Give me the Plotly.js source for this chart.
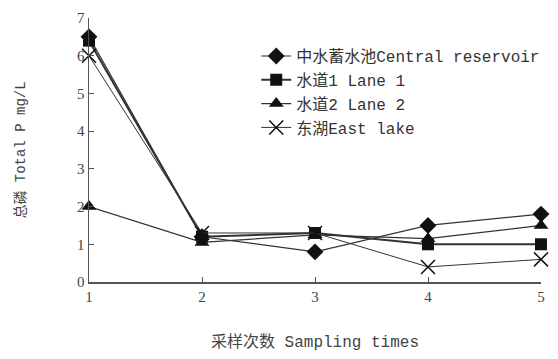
<!DOCTYPE html>
<html><head><meta charset="utf-8">
<script src="https://cdn.plot.ly/plotly-3.0.1.min.js"></script>
<style>body{margin:0;background:#fff}#c{width:558px;height:359px}</style>
</head><body><div id="c"></div>
<script>
var samplingTimes = [1, 2, 3, 4, 5];
var centralReservoir = [6.5, 1.2, 0.8, 1.5, 1.8];
var lane1 = [6.4, 1.2, 1.3, 1.0, 1.0];
var lane2 = [2.0, 1.05, 1.25, 1.15, 1.5];
var eastLake = [6.0, 1.3, 1.3, 0.4, 0.6];
var names = ['中水蓄水池Central reservoir', '水道1 Lane 1', '水道2 Lane 2', '东湖East lake'];

var F = 'Liberation Serif, Noto Sans CJK SC, serif';
var M = 'Liberation Mono, Noto Sans CJK SC, monospace';
var col = '#333';
function tr(y, name, sym, size, w){
  return {x: samplingTimes, y: y, name: name, mode: 'lines+markers', type: 'scatter',
    line: {color: col, width: w}, marker: {symbol: sym, size: size, color: '#111', line:{color:'#111', width: sym==='x-thin'?1.5:0}},
    cliponaxis: false};
}
var data = [
  tr(centralReservoir, names[0], 'diamond', 13, 1.2),
  tr(lane1, names[1], 'square', 12, 2),
  tr(lane2, names[2], 'triangle-up', 13, 1.2),
  tr(eastLake, names[3], 'x-thin', 14, 1)
];
var layout = {
  width: 558, height: 359,
  margin: {l: 89, r: 17, t: 18, b: 77},
  paper_bgcolor: '#fff', plot_bgcolor: '#fff',
  font: {family: F, color: '#444', size: 14},
  showlegend: true,
  legend: {x: 0.37, y: 0.92, xanchor: 'left', yanchor: 'top', bgcolor: 'rgba(0,0,0,0)',
    font: {family: M, size: 16, color: '#333'}, tracegroupgap: 0},
  xaxis: {range: [1, 5], tickvals: samplingTimes, ticks: 'inside', ticklen: 5, tickcolor: '#555',
    showline: true, linecolor: '#555', linewidth: 1.5, showgrid: false, zeroline: false,
    tickfont: {family: F, size: 15, color: '#444'},
    title: {text: '采样次数 Sampling times', font: {family: M, size: 16, color: '#444'}, standoff: 32}},
  yaxis: {range: [0, 7], dtick: 1, ticks: 'inside', ticklen: 5, tickcolor: '#555',
    showline: true, linecolor: '#555', linewidth: 1.5, showgrid: false, zeroline: false,
    tickfont: {family: F, size: 15, color: '#444'},
    title: {text: '总磷 Total P mg/L', font: {family: M, size: 14, color: '#444'}, standoff: 48}}
};
Plotly.newPlot('c', data, layout, {displayModeBar: false, staticPlot: true});
</script></body></html>
